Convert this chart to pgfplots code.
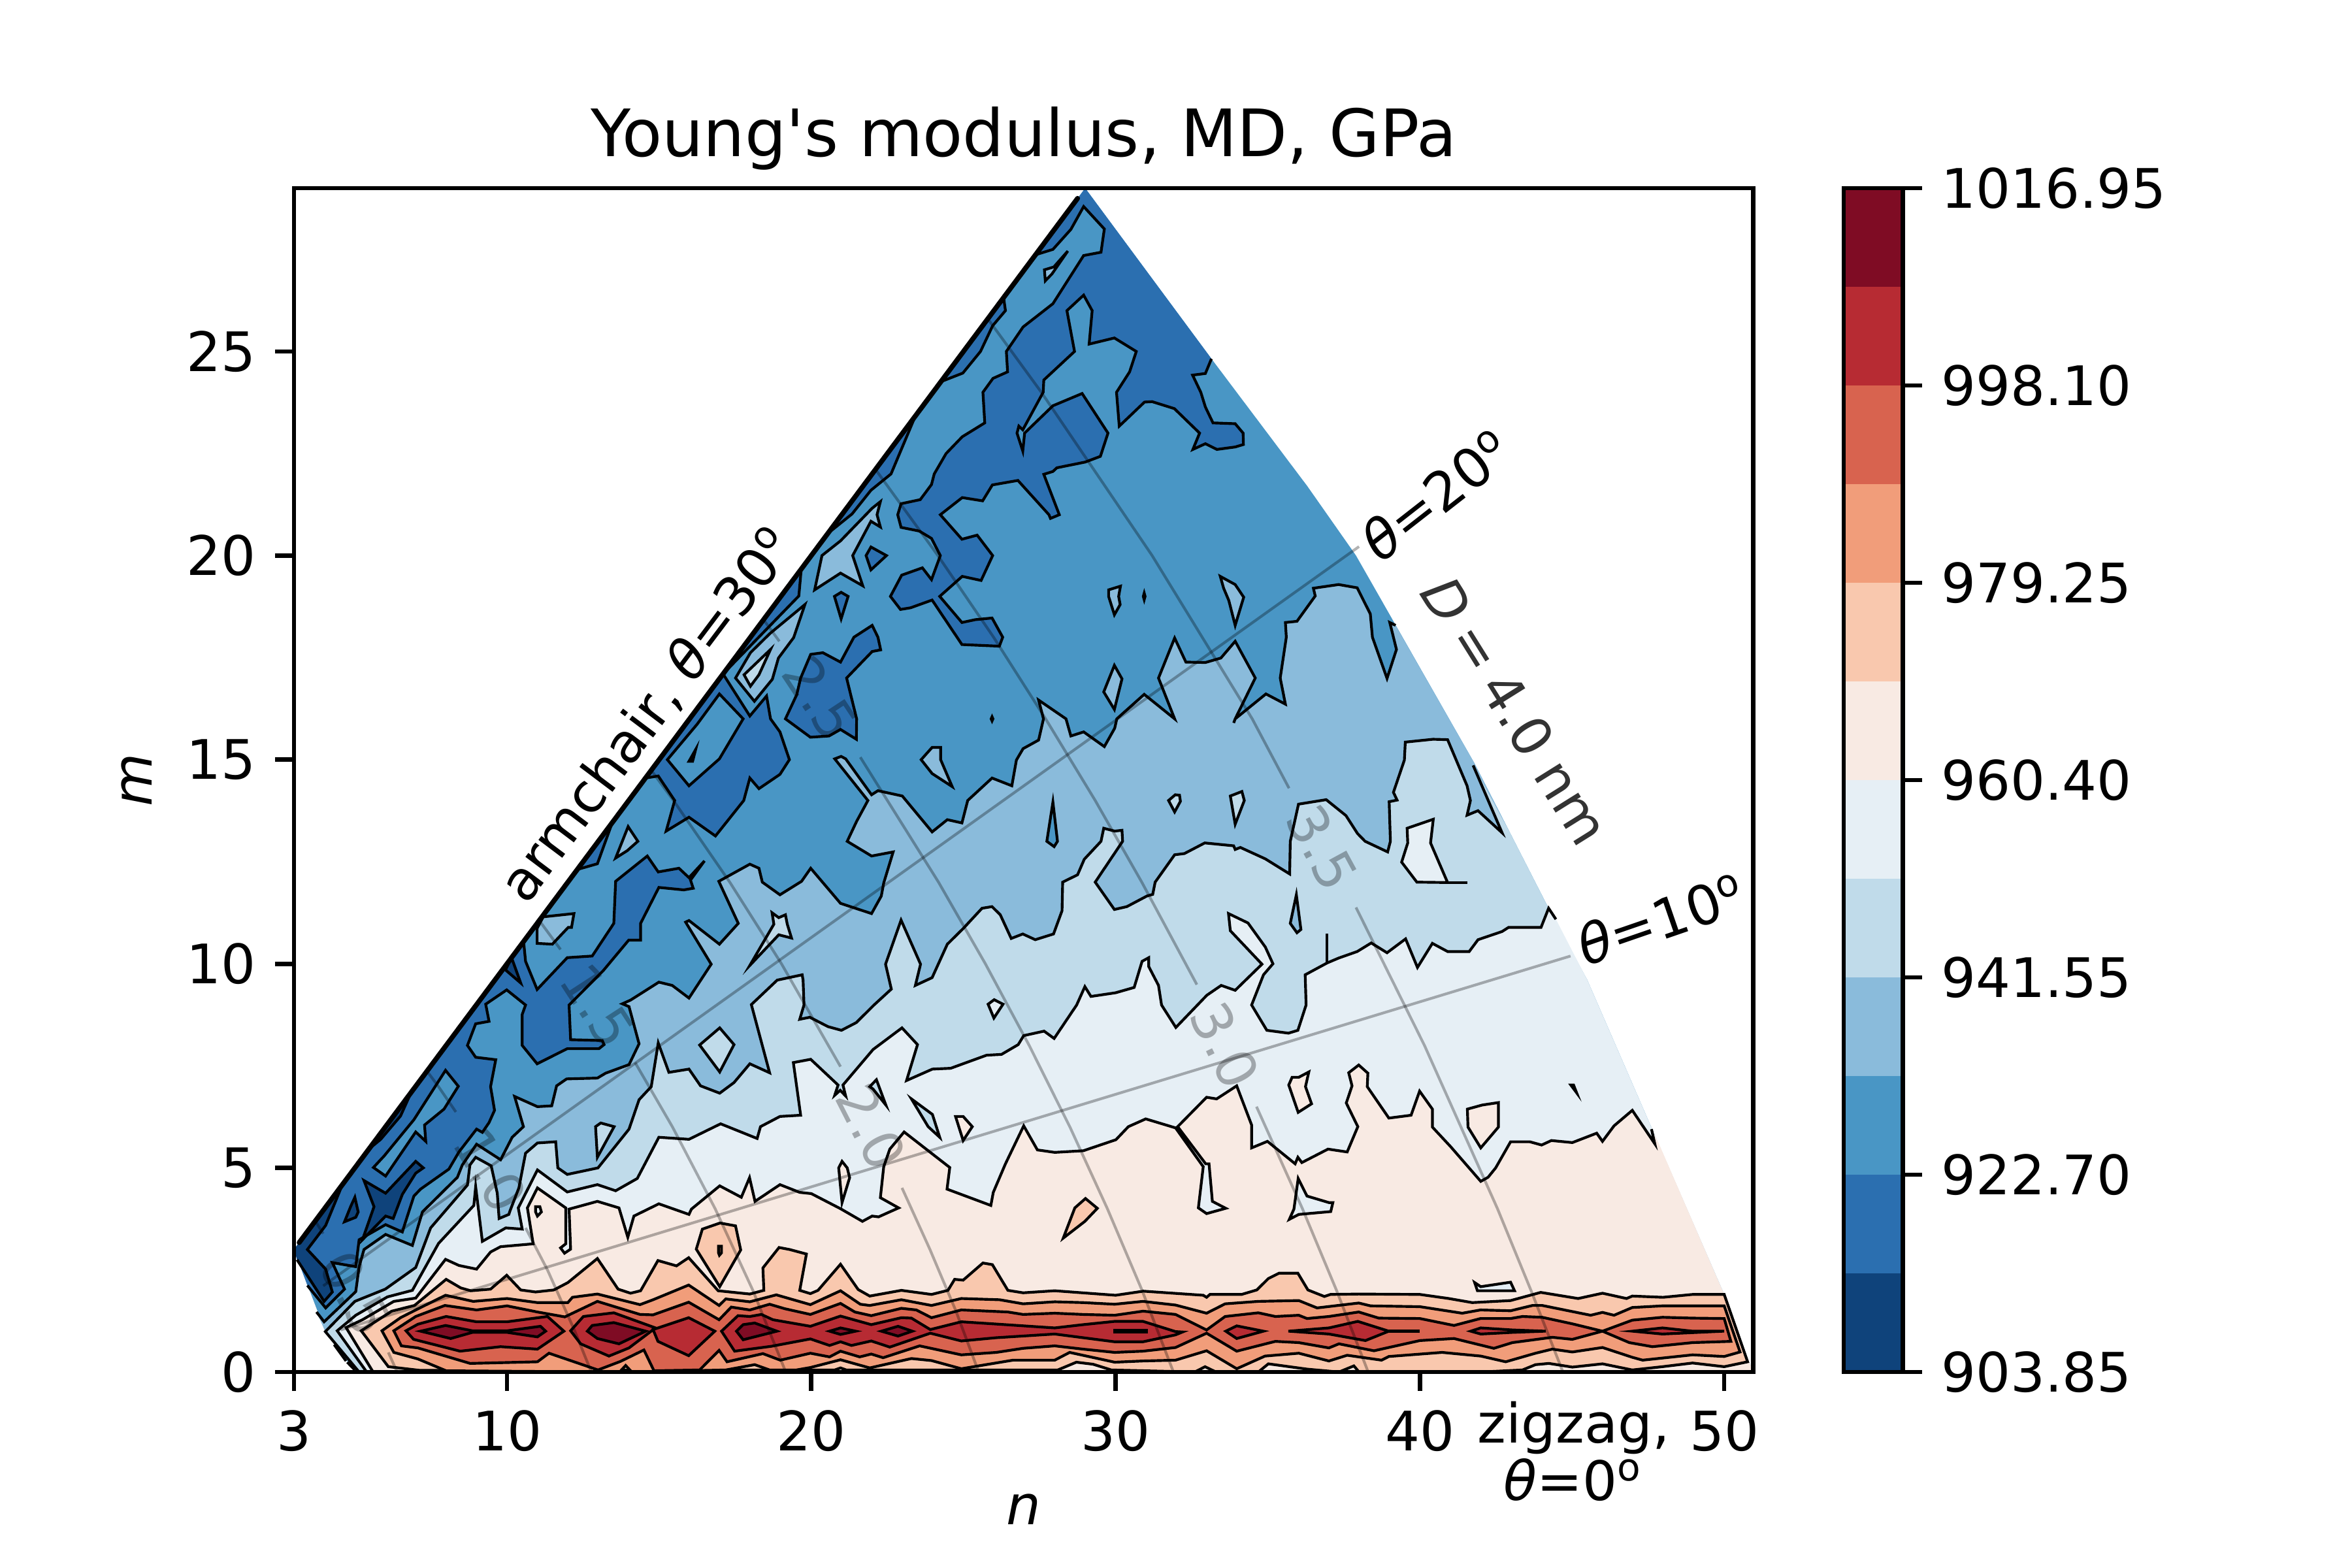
\documentclass[border=0pt]{standalone}
\usepackage{fontspec}
\setmainfont{DejaVu Sans}[Ligatures=TeXOff]
\usepackage{pgfplots}
\pgfplotsset{compat=1.18}

\definecolor{b1}{HTML}{0F437B}
\definecolor{b2}{HTML}{2B6FB0}
\definecolor{b3}{HTML}{4996C5}
\definecolor{b4}{HTML}{8ABBDB}
\definecolor{b5}{HTML}{C0DBEA}
\definecolor{b6}{HTML}{E6EFF5}
\definecolor{b7}{HTML}{F8EAE3}
\definecolor{b8}{HTML}{F9C8AE}
\definecolor{b9}{HTML}{F19D7A}
\definecolor{b10}{HTML}{D8634F}
\definecolor{b11}{HTML}{B72B33}
\definecolor{b12}{HTML}{7F0C24}

\newcommand{\tenbp}{\fontsize{10.04}{12}\selectfont}
\tikzset{cline/.style={draw=black,line width=0.5bp}}
\pgfplotsset{
  ticks common/.style={
    scale only axis, axis on top, clip mode=individual,
    tick align=outside,
    major tick length=3.5bp,
    every tick/.style={black,line width=0.8bp},
    axis line style={line width=0.8bp},
    tick label style={font=\tenbp},
    label style={font=\tenbp},
    /pgf/number format/assume math mode=true,
  },
}
% region bounded by a contour that ends on the edge of the chart:
% #2 is the contour, #3 only closes the fill
\newcommand{\band}[3]{%
  \addplot[fill=#1,draw=none,forget plot] coordinates {#2 #3};
  \addplot[cline,forget plot] coordinates {#2};}
% closed contour
\newcommand{\isl}[2]{\addplot[fill=#1,cline,forget plot] coordinates {#2} --cycle;}
% contour piece
\newcommand{\cl}[1]{\addplot[cline,forget plot] coordinates {#1};}
\newcommand{\iso}[1]{\addplot[black,opacity=0.3,line width=0.5bp,forget plot] coordinates {#1};}
\newcommand{\isolab}[4]{\node[rotate=#3,font=\tenbp,text=black,opacity=0.3] at (axis cs:#1,#2) {#4};}

\begin{document}
\begin{tikzpicture}
\useasboundingbox (0,0) rectangle (432bp,288bp);
\begin{axis}[
  ticks common,
  at={(54bp,36bp)}, anchor=south west,
  width=268bp, height=217.44bp,
  xmin=3, xmax=50.95, ymin=0, ymax=29,
  xtick={3,10,20,30,40,50}, ytick={0,5,10,15,20,25},
  tick pos=left,
  xlabel={\textit{n}}, ylabel={\textit{m}},
  xlabel shift=1bp, ylabel shift=-0.5bp,
  title={Young's modulus, MD, GPa},
  title style={font=\fontsize{12.05}{14}\selectfont,yshift=-6.2bp},
]
% whole map
\addplot[fill=b3,draw=none,forget plot] coordinates {(3,3)(29,29)(33.15,24.82)(36.3,21.7)(37.9,20)(41.8,14.9)(44.2,11.4)(45.5,9.6)(47.6,6)(50,1.9)(50.8,0.25)(51,0)(5,0)(4.03,0.99)} --cycle;

% band 2, upper part
\band{b2}{(33.15,24.82)(32.95,24.46)(32.53,24.42)(32.8,24)(32.95,23.64)(33.2,23.25)(33.93,23.23)(34.19,23)(34.2,22.72)(33.93,22.66)(33.33,22.6)(32.95,22.74)(32.54,22.6)(32.76,23)(31.93,23.6)(31.2,23.77)(30.95,23.76)(30.12,23.17)(30.03,24)(30.46,24.5)(30.68,25)(29.96,25.33)(29.13,25.18)(29.23,26)(28.95,26.38)(28.4,26)(28.65,25)(27.64,24.3)(27.62,24)(26.95,23.08)(26.82,23.17)(26.76,23)(26.95,22.56)(27.01,23)(27.94,23.67)(28.9,23.97)(29.75,23)(29.5,22.43)(29,22.29)(28.07,22.15)(27.94,22.06)(27.64,21.99)(28.15,21)(27.86,20.91)(27.81,21)(26.79,21.84)(25.95,21.73)(25.63,21.34)(24.96,21.42)(24.24,21)(24.95,20.4)(25.45,20.5)(25.96,20)(25.58,19.39)(24.96,19.49)(24.22,19)(24.95,18.36)(25.39,18.43)(25.94,18.47)(26.29,18)(26.18,17.78)(24.95,17.82)(23.97,18.91)(23.26,18.72)(22.93,18.68)(22.6,19)(22.97,19.52)(23.65,19.7)(23.95,19.41)(24.24,20)(23.95,20.42)(23.55,20.6)(22.95,20.69)(22.84,21)(22.95,21.27)(23.58,21.37)(23.95,21.74)(24.04,22)(24.43,22.5)(24.96,22.91)(25.7,23.25)(25.64,24)(25.97,24.34)(26.45,24.5)(26.41,25)(26.96,25.6)(27.94,26.17)(28.95,27.35)(29.52,27.43)(29.63,28)(28.95,28.55)(28.53,27.99)(27.94,27.5)(27.42,27.38)}{(29,29)}
\isl{b2}{(26.32,26.32)(26.38,26)(25.96,25.63)(25.56,25)(24.98,24.47)(24.26,24.26)}
\isl{b2}{(23.42,23.42)(22.62,22)(21.96,21.6)(21.34,21.02)(20.54,20.54)}
\isl{b2}{(19.67,19.67)(19.59,19.01)(17.1,17.1)}
\isl{b2}{(17.1,17.1)(17.98,16.07)(18.53,16.56)(18.66,16)(18.97,15.68)(19.28,15)(18.97,14.64)(18.28,14.29)(17.98,14.55)(17.78,14)(16.85,13.13)(15.98,13.59)(15.23,13.25)(15.51,14)(14.97,14.6)(14.55,14.55)}
\isl{b3}{(16.98,16.61)(17.76,16)(16.98,15.02)(15.98,14.36)(15.27,15)(16.25,15.87)}
\isl{b2}{(15.98,14.96)(16.2,15.25)(16.1,14.96)}
\isl{b2}{(22,18.29)(22.19,18)(22.28,17.69)(22,17.65)(21.16,17)(21.49,16)(21.48,15.5)(20.96,15.74)(20.58,15.58)(19.97,15.55)(19.15,16)(19.52,16.59)(19.65,17)(19.98,17.58)(20.38,17.62)(20.96,17.39)(21.4,18)}
\isl{b2}{(12.31,12.31)(12.97,12.45)(13.46,13.46)}
\isl{b2}{(21.96,20.21)(22.47,20)(21.96,19.65)(21.8,20)}
\isl{b2}{(20.98,19.1)(21.21,19)(20.98,18.45)(20.76,19)}

% band 2, lower part
\band{b2}{(10.55,10.51)(10.61,10.06)(10.99,9.37)(11.98,10.15)(12.8,10.19)(13.51,10.99)(13.57,12.02)(14.61,12.64)(14.97,12.25)(15.65,12.34)(15.98,12.11)(16.49,12.52)(16.03,12.05)(16.12,11.85)(15.81,11.81)(14.99,11.87)(14.39,10.99)(14.39,10.58)(14,10.58)(13.16,9.83)(12.04,8.99)(12.09,8.14)(13.13,8.12)(13.19,8.02)(13.02,7.92)(11.98,7.92)(10.99,7.55)(10.5,8)(10.5,8.76)(10.61,8.99)(9.99,9.36)(9.3,9.01)(9.41,8.59)(8.97,8.53)(8.7,8)(8.97,7.71)(9.63,7.65)(9.46,6.99)(9.59,6.41)(9.41,6.11)(9.19,5.87)(9,5.95)(8.42,5.39)(8.09,4.97)(7.16,4.48)(6.94,4.31)(6.67,3.69)(6.56,3.43)(6.01,3.61)(5.14,3.24)(5.03,2.58)(4.26,2.68)(4.66,2.03)(4.04,1.57)(3.44,2.12)}{(3,3)}
\isl{b3}{(7.98,7.39)(8.4,7)(7.93,6.44)(7.29,6.05)(7.33,5.65)(7,5.88)(6.01,4.8)(5.61,5.01)(5.96,5.29)(6.4,5.69)(6.94,6.18)}
% band 1
\isl{b1}{(6.85,6.85)(6.5,6.27)(5.85,5.7)(5.46,5.46)}
\isl{b1}{(10.15,10.15)(10.45,9.53)(9.95,9.85)}
\isl{b1}{(5.3,4.69)(6.01,4.38)(7,5.16)(7.25,5)(7,4.87)(6.56,4.35)(6.26,3.76)(6.01,3.82)(5.25,3.24)(5.63,4.05)}
\isl{b1}{(5,4.28)(5.11,3.92)(5.03,3.79)(4.66,3.68)(4.86,4.05)}
\band{b1}{(4.59,4.59)(4.04,3.59)(3.44,3)(4.04,2.52)(4.26,1.96)(3.99,1.73)(3.1,2.75)}{(3,3)}

% islands of band 4 and 5 in band 3
\isl{b4}{(20.11,19.16)(20.35,20)(20.96,20.36)(22,21.16)(22.27,21.32)(22.16,21)(22.27,20.7)(21.96,20.84)(21.36,20)(21.69,19.26)(20.96,19.57)}
\isl{b4}{(19.79,18.8)(19.42,17.99)(18.92,17.49)(18.72,16.97)(18.13,16.43)(17.51,17)(18,17.62)(18.64,18.09)}
\isl{b5}{(18.66,17.7)(18.28,17.08)(18.0,16.8)(17.79,17.08)}
\isl{b4}{(27.66,27)(27.97,27.07)(28.43,27.46)(27.91,26.9)(27.69,26.73)}
\isl{b4}{(13.98,13.36)(14.3,13)(13.95,12.77)(13.57,12.59)}
\isl{b4}{(23.61,15)(23.97,15.3)(24.25,15.3)(24.25,15)(24.63,14.34)(23.97,14.66)}
\isl{b4}{(10.99,10.87)(11.19,11.15)(12.2,11.23)(12.12,10.89)(12.01,10.89)(11.49,10.48)(10.99,10.5)}
\isl{b4}{(33.44,19.49)(33.55,19.2)(33.72,18.9)(33.93,18.29)(34.21,18.98)(33.93,19.29)}
\isl{b4}{(29.77,19.16)(30.16,19.25)(30.1,19)(30.15,18.8)(29.96,18.55)(29.77,19)}
\isl{b4}{(29.96,17.31)(30.21,16.98)(29.96,16.23)(29.61,16.66)}
\isl{b4}{(30.94,19.08)(30.97,19)(30.94,18.92)(30.91,19)}
\isl{b4}{(25.94,16.05)(25.97,16)(25.94,15.95)(25.91,16)}

% band 4, main region
\band{b4}{(39.2,18.29)(39.01,18.36)(39.23,17.7)(38.92,16.99)(38.44,18)(38.37,18.57)(37.94,19.21)(37.33,19.29)(36.5,19.2)(36.56,19.01)(35.96,18.39)(35.58,18.36)(35.61,18)(35.41,17)(35.58,16.36)(34.94,16.61)(33.93,16)(33.88,15.9)(33.93,16)(34.59,17)(33.93,17.9)(33.46,17.49)(32.95,17.38)(32.31,17.39)(31.94,17.98)(31.41,17)(31.94,16)(30.94,16.6)(30.04,16)(29.97,15.77)(29.63,15.32)(28.95,15.68)(28.53,15.58)(28.37,16)(27.47,16.46)(27.63,16)(27.47,15.48)(26.96,15.27)(26.74,14.99)(26.59,14.36)(25.94,14.55)(25.14,14)(24.95,13.45)(24.47,13.53)(23.97,13.23)(22.99,14.11)(22.19,14.24)(21.98,14.14)(21.13,15.02)(20.98,15.08)(20.77,15.02)(21.86,14)(21.49,13.49)(21.18,13)(21.98,12.64)(22.69,12.74)(22.38,11.98)(22.3,11.66)(21.98,11.23)(20.96,11.48)(19.98,12.34)(19.68,12.02)(18.97,11.69)(18.39,12)(18.28,12.34)(17.98,12.44)(16.96,12.02)(17.6,10.99)(16.98,10.48)(15.98,11.06)(15.87,11.02)(16.71,9.99)(15.98,9.16)(15.43,9.47)(14.99,9.55)(14.06,9.11)(13.79,9.02)(14.01,8.95)(14.34,8.04)(14.01,7.53)(13.24,7.32)(12.97,7.2)(11.96,7.18)(11.63,7.01)(11.47,6.52)(11,6.5)(10.25,6.75)(10.54,6.01)(10.17,5.75)(9.79,5.2)(9,5.58)(8.53,5.07)(8.37,4.77)(7.22,3.92)(6.89,3.1)(6.01,3.37)(5.3,3)(5.14,2.58)(5.03,1.97)(3.99,1.23)(3.74,1.47)}{(4.03,0.99)(5,0)(51,0)(50.8,0.25)(50,1.9)(47.6,6)(45.5,9.6)(44.2,11.4)(41.8,14.9)}
\cl{(4.32,0.67)(4.71,0.27)}
\cl{(4.75,0.24)(5,0.05)}
\isl{b3}{(27.94,13.96)(28.09,13)(27.98,12.87)(27.74,13)}
\isl{b5}{(12.91,6.01)(13.08,6.1)(13.52,6.01)(12.97,5.26)}
\isl{b5}{(16.33,8.01)(16.99,8.43)(17.46,8.02)(16.99,7.35)}
\isl{b5}{(18.71,11.25)(18.93,11.13)(19.15,11.2)(19.21,10.97)(19.35,10.63)(18.93,10.71)(17.98,9.96)(18.77,10.97)}
\isl{b5}{(31.74,14)(31.96,14.14)(32.1,14.13)(32.13,13.98)(31.94,13.72)}
\isl{b5}{(33.77,14.11)(34.15,14.22)(34.23,14)(33.93,13.42)}

% band 5, main region
\band{b5}{(5.14,0)(4.03,0.99)(5,1.73)(6,2.03)(7,2.56)(7.49,3.53)(8.7,4.58)(8.78,5.07)(8.97,5.26)(9.48,5.05)(9.68,4.38)(9.74,3.76)(10.06,3.86)(10.1,3.95)(10.39,4.51)(10.61,5.36)(11,5.61)(11.6,5.64)(11.67,5)(11.98,4.84)(12.99,5)(14.01,5.95)(14.34,6.67)(14.74,6.99)(14.97,8.06)(15.32,7.34)(15.98,7.42)(16.36,7.01)(16.99,6.83)(17.46,7.09)(17.98,7.55)(18.63,7.33)(18.03,9)(18.88,9.6)(19.7,9.73)(19.73,9.6)(19.76,8.99)(19.62,8.64)(19.95,8.69)(20.55,8.46)(20.99,8.37)(21.48,8.56)(22.06,8.99)(22.63,9.38)(22.44,9.99)(22.95,11.07)(23.59,9.99)(23.42,9.47)(23.97,9.66)(24.47,10.48)(25,10.87)(25.61,11.36)(25.94,11.4)(26.21,11.2)(26.57,10.62)(26.95,10.73)(27.36,10.59)(27.96,10.73)(28.24,11.3)(28.26,12)(28.75,12.18)(28.97,12.56)(29.52,13)(29.61,13.32)(29.97,13.25)(30.21,13.27)(30.23,13)(29.33,12)(29.96,11.33)(30.37,11.4)(31.03,11.66)(31.22,11.7)(31.3,12)(31.94,12.67)(32.26,12.7)(32.93,12.96)(33.88,12.89)(33.93,12.8)(34.1,12.85)(34.92,12.57)(35.72,12.2)(35.74,13)(36.01,13.91)(36.92,14.02)(37.57,13.63)(37.95,13.19)(38.2,13)(38.94,12.74)(39.03,13)(38.99,13.97)(39.25,14.01)(39.13,14.2)(39.49,14.99)(39.52,15.43)(40.43,15.5)(40.91,15.49)(41.55,14.36)(41.66,14)(41.55,13.64)(41.91,13.75)(42.7,13.21)(41.75,14.86)}{(42.96,13.21)(44.2,11.4)(45.5,9.6)(47.6,6)(50,1.9)(50.8,0.25)(51,0)}
\isl{b4}{(35.94,11.69)(36.09,10.84)(35.96,10.76)(35.74,10.99)}
\isl{b6}{(25.81,9.01)(26.01,9.12)(26.3,9.01)(26,8.67)}
\isl{b6}{(39.58,13.32)(40.44,13.54)(40.35,12.96)(40.91,11.99)(39.9,12)(39.4,12.49)(39.6,12.96)}
\cl{(40.91,11.99)(41.55,11.99)}

% band 6, main region
\band{b6}{(5.39,0)(4.42,1.01)(5.03,1.39)(6.07,1.84)(6.89,2)(7.75,3.15)(8.91,4.08)(8.97,4.54)(9.19,3.2)(9.96,3.53)(10.5,3.5)(10.37,4.02)(11,4.95)(11.98,4.41)(12.97,4.59)(13.57,4.44)(14.28,4.74)(14.99,5.75)(15.98,5.7)(17.02,6.08)(18.22,5.72)(18.33,6.01)(18.97,6.26)(19.65,6.29)(19.41,7.58)(19.98,7.66)(20.88,7.03)(20.77,6.78)(20.95,6.9)(21.13,6.76)(21.04,7.03)(22.03,7.9)(22.98,8.43)(23.49,8.02)(23.13,7.14)(23.98,7.42)(24.58,7.44)(25.76,7.76)(26.25,7.78)(26.8,8.02)(26.98,8.24)(27.65,8.35)(27.98,8.17)(28.72,8.99)(28.99,9.44)(29.19,9.2)(30,9.29)(30.61,9.42)(30.87,10.06)(31.09,10.15)(31.09,9.93)(31.41,9.47)(31.51,8.99)(31.98,8.44)(33,9.23)(33.47,9.47)(33.93,9.35)(34.81,9.99)(33.77,10.81)(33.71,11.23)(34.35,11)(34.92,10.41)(35.17,10)(34.86,9.73)(34.47,8.99)(34.97,8.37)(35.68,8.3)(35.99,8.37)(36.26,8.99)(36.23,9.73)(36.95,10.02)(37.33,10.14)(37.94,10.3)(38.4,10.51)(38.92,10.27)(39.53,10.61)(39.92,9.91)(40.41,10.5)(40.91,10.3)(41.62,10.3)(41.91,10.59)(42.7,10.79)(42.91,10.89)(43.98,10.89)(44.23,11.36)(44.47,11.09)}{(45.5,9.6)(47.6,6)(50,1.9)(50.8,0.25)(51,0)}
\cl{(36.95,10.74)(36.95,10.02)}
\isl{b5}{(23.29,6.69)(23.98,6.31)(24.22,5.75)(23.84,6.01)}
\isl{b5}{(21.92,6.99)(22.14,7.16)(22.45,6.54)(22.03,6.93)}
\isl{b7}{(24.74,6.26)(24.99,6.26)(25.29,6.01)(24.99,5.67)}
\isl{b7}{(21.01,5.16)(21.18,5)(21.26,4.76)(21.01,4.15)(20.9,5)}
\isl{b7}{(35.69,7.03)(35.8,7.22)(36.02,7.22)(36.35,7.35)(36.24,6.99)(36.44,6.57)(36,6.36)}
\isl{b7}{(41.56,6.44)(42.05,6.54)(42.58,6.6)(42.58,6)(42,5.49)(41.58,6)}
\isl{b7}{(44.96,7.03)(45.15,6.84)(45.05,7.03)}

% band 7, main region
\band{b7}{(5.6,0)(4.71,1.09)(5.25,1.28)(6.28,1.73)(7,1.81)(7.98,2.76)(8.42,2.61)(9,2.52)(9.46,2.94)(9.79,3.07)(10.86,3.14)(10.67,4.02)(11,4.51)(11.93,4.02)(11.93,3.14)(11.76,3.04)(11.89,2.91)(12.09,3.01)(12.04,3.99)(12.97,4.18)(13.68,4.02)(13.97,3.3)(14.17,3.82)(14.99,4.12)(15.98,3.86)(16.06,3.99)(16.99,4.56)(17.7,4.28)(17.97,4.76)(18.15,4.18)(18.97,4.59)(19.62,4.4)(20,4.37)(20.96,4)(21.68,3.69)(22,3.82)(22.21,3.8)(22.87,4.02)(22.27,4.27)(22.38,5.03)(22.58,5.46)(23.05,5.88)(24.55,5.01)(24.46,4.48)(25.9,4.08)(25.98,4.4)(26.38,5.1)(26.98,6.03)(27.43,5.44)(28,5.38)(28.94,5.42)(30.01,5.69)(30.42,6.01)(30.99,6.2)(31.97,5.98)(32.88,5.03)(32.72,4.02)(32.99,3.88)(33.62,4.01)(33.18,4.18)(33.07,5.1)(32.96,5.1)(32.04,6.01)(32.99,6.73)(33.32,6.69)(33.98,7.01)(34.47,6.05)(34.47,5.49)(34.99,5.65)(35.9,5.1)(35.99,5.26)(36.12,5.13)(36.98,5.46)(37.61,5.39)(37.96,6.01)(37.58,6.59)(37.77,7.01)(37.66,7.33)(37.99,7.52)(38.29,7.32)(38.27,6.99)(38.98,6.22)(39.71,6.29)(39.99,6.88)(40.41,6.44)(40.41,6)(41.01,5.52)(42,4.67)(42.24,4.77)(42.49,5)(42.98,5.64)(43.61,5.64)(44,5.56)(44.32,5.67)(45.01,5.62)(45.81,5.85)(46,5.65)(46.38,6.03)(46.98,6.41)(47.72,5.59)(47.61,5.95)}{(47.85,5.6)(50,1.9)(50.8,0.25)(51,0)}
\isl{b6}{(10.94,4.05)(11.08,4.05)(11.13,3.92)(11,3.82)(10.94,3.92)}
\isl{b6}{(36,4.74)(36.29,4.31)(37.01,4.15)(37.14,4.15)(37.07,3.93)(36.02,3.86)(35.71,3.74)(35.86,3.99)}
\isl{b6}{(41.8,2.19)(42,2.09)(42.98,2.2)(43.11,1.99)(41.89,1.99)}
\isl{b8}{(16.42,3.5)(17,3.65)(17.51,3.58)(17.68,2.99)(16.99,2.09)(16.22,3.01)}
\isl{b9}{(16.95,3.08)(17.05,3.08)(17.05,2.92)(16.98,2.86)(16.95,2.92)}
\isl{b8}{(28.66,4.02)(29.01,4.25)(29.4,4.01)(28.99,3.69)(28.28,3.28)}

% band 8
\isl{b8}{(5.21,1.01)(6.21,1.49)(6.96,1.63)(8,2.27)(8.48,2.06)(8.81,1.99)(9.46,2.03)(9.99,2.37)(10.45,2.01)(10.94,1.96)(11.54,2.01)(12,2.19)(12.97,2.78)(13.65,2.03)(14.06,1.93)(14.39,1.99)(14.96,2.73)(15.57,2.6)(15.97,2.8)(16.94,1.99)(17.98,1.91)(18.44,2)(18.41,2.55)(18.94,3.05)(19.29,3)(19.84,2.89)(19.62,2)(19.97,1.92)(20.22,2)(20.96,2.64)(21.54,2.02)(21.92,1.86)(22.96,2)(23.95,1.9)(24.49,2)(24.71,2.27)(24.99,2.25)(25.64,2.67)(25.95,2.63)(26.46,2)(26.96,1.94)(28,1.99)(30,1.88)(30.91,1.98)(32.88,1.88)(32.99,1.83)(33.1,1.9)(34.14,1.9)(34.64,2.01)(35.02,2.29)(35.37,2.42)(35.99,2.42)(36.32,2.01)(36.86,1.85)(37.06,1.9)(37.99,1.91)(40,1.9)(40.95,1.8)(41.72,1.7)(42.98,1.75)(43.97,1.95)(45.2,1.8)(46,1.93)(46.79,1.8)(46.98,1.86)(47.99,1.83)(48.96,1.9)(50,1.9)(50.77,0.25)(50,0.13)(48.96,0.22)(47.97,0.13)(46.98,0.05)(46,0.2)(45.01,0.12)(44.24,0.21)(43.8,0.18)(43.37,0.05)(42,0)(38,0)(37.83,0.15)(37.34,0)(36.3,0.07)(35.02,0.2)(34.69,0)(33.3,0)(32.94,0.13)(32.6,0)(29.86,0.05)(29.26,0.19)(28.71,0.24)(28.1,0.05)(21.15,0.05)(20.96,0.1)(20.77,0.05)(7.14,0.04)(6.1,0.13)}

% band 9
\isl{b9}{(5.89,1.01)(6.5,1.33)(7,1.52)(7.98,1.88)(8.89,1.73)(10,1.8)(11,1.7)(12,1.7)(12.15,1.83)(12.97,1.91)(14.37,1.65)(14.8,1.77)(15.97,2.13)(16.97,1.63)(17.19,1.79)(17.98,1.72)(18.85,1.89)(19.97,1.65)(20.96,1.99)(21.61,1.66)(21.92,1.63)(22.96,1.77)(23.95,1.63)(24.93,1.8)(26.19,1.77)(26.96,1.67)(28,1.72)(28.93,1.7)(29.97,1.66)(30.9,1.73)(31.97,1.64)(32.99,1.44)(33.6,1.67)(34.69,1.73)(36.02,1.75)(36.62,1.57)(37.99,1.69)(38.38,1.62)(40,1.6)(41.39,1.44)(41.99,1.52)(42.98,1.5)(43.7,1.63)(44.02,1.63)(45.61,1.39)(46,1.46)(46.38,1.39)(46.98,1.58)(47.97,1.62)(48.96,1.62)(50,1.62)(50.52,0.49)(50,0.38)(48.96,0.42)(47.32,0.29)(46.98,0.36)(46,0.6)(45.01,0.49)(44.35,0.56)(43.8,0.46)(42.82,0.25)(42,0.39)(40.73,0.48)(38.98,0.38)(38.74,0.29)(37.61,0.41)(37.01,0.27)(36.02,0.46)(34.91,0.39)(33.98,0.08)(32.99,0.52)(31.97,0.29)(30.9,0.27)(29.97,0.24)(28.49,0.48)(28,0.29)(26.63,0.29)(24.93,0.08)(23.95,0.28)(23.29,0.33)(21.92,0.1)(20.96,0.3)(19.97,0.11)(19.51,0.05)(18.63,0.05)(18.14,0.18)(17.19,0.05)(14.1,0)(13.9,0.16)(13.7,0)(8,0.03)(7.07,0.32)(6.28,0.48)}

% band 10
\isl{b10}{(6.28,1.01)(7,1.36)(7.96,1.63)(9,1.52)(10,1.62)(11,1.47)(11.9,1.35)(12.97,1.73)(14.37,1.41)(14.8,1.4)(15.97,1.71)(16.97,1.28)(17.37,1.59)(17.98,1.52)(18.63,1.66)(19.13,1.55)(19.97,1.41)(20.96,1.68)(21.43,1.47)(21.97,1.38)(22.96,1.56)(23.45,1.52)(23.95,1.33)(24.93,1.52)(26.46,1.47)(26.96,1.41)(28,1.44)(28.93,1.41)(29.97,1.39)(30.9,1.49)(31.97,1.41)(32.99,1.03)(33.6,1.36)(34.69,1.45)(35.25,1.36)(36.02,1.39)(36.29,1.31)(37.01,1.36)(37.99,1.47)(38.65,1.32)(40,1.31)(41.12,1.14)(41.99,1.31)(42.98,1.31)(43.37,1.36)(44.02,1.34)(45.01,1.18)(46,1)(46.98,1.27)(47.97,1.34)(48.96,1.32)(50,1.31)(50.22,0.75)(48.96,0.72)(47.64,0.62)(46.88,0.72)(46,1)(45.01,0.8)(44.35,0.85)(43.04,0.72)(42.43,0.58)(41.12,0.82)(40,0.77)(38.49,0.52)(37.34,0.69)(37.01,0.59)(36.02,0.72)(35.25,0.75)(33.98,0.51)(32.99,0.95)(31.97,0.6)(30.9,0.51)(29.97,0.48)(28.93,0.56)(28,0.64)(26.96,0.58)(26.08,0.48)(24.93,0.42)(23.56,0.64)(22.36,0.35)(21.97,0.44)(21.59,0.37)(20.96,0.51)(20.6,0.37)(19.97,0.46)(18.98,0.29)(18.41,0.45)(17.23,0.25)(16.97,0.53)(16.33,0.05)(14.83,0.03)(14.5,0.54)(13.73,0.26)(12.99,0.05)(11.38,0.46)(11,0.25)(8.79,0.21)(7.07,0.59)(6.53,0.64)}

% band 11
\isl{b11}{(6.68,1.01)(7.07,1.17)(8,1.36)(9,1.23)(10,1.23)(11.33,1.36)(11.87,1)(11,0.56)(9.79,0.62)(8.46,0.51)(6.93,0.8)}
\isl{b11}{(12.09,1.01)(12.51,1.36)(13.51,1.45)(14.88,1.08)(14.01,0.59)(13.35,0.39)(12.42,0.69)}
\isl{b11}{(14.8,1.04)(15.97,1.33)(16.83,1)(15.97,0.4)(14.96,0.75)}
\isl{b11}{(17.05,1)(17.59,1.38)(17.98,1.36)(18.36,1.41)(18.74,1.28)(19.97,1.12)(20.96,1.37)(21.97,1.16)(22.96,1.33)(23.29,1.32)(23.91,1.04)(24.93,1.23)(25.97,1.18)(28,1.08)(28.93,1.16)(29.97,1.24)(30.9,1.24)(31.97,0.99)(32.2,0.98)(31.97,0.91)(30.9,0.74)(29.97,0.74)(28,0.93)(26.08,0.84)(24.93,0.76)(23.91,0.95)(22.58,0.61)(21.97,0.76)(21.32,0.65)(20.96,0.74)(20.6,0.65)(19.97,0.81)(18.69,0.63)(17.48,0.51)}
\isl{b11}{(33.62,1)(33.98,1.13)(34.86,1)(33.98,0.82)}
\isl{b11}{(35.68,1)(37.01,1.08)(37.96,1.24)(38.98,1)(38.21,0.77)(37.01,0.93)}
\cl{(38.98,1)(40,1)}
\isl{b11}{(41.67,1)(42,1.08)(43.04,1.03)(44.13,1)(43.04,0.97)(42,0.93)}
\isl{b11}{(46.98,1)(47.97,1.08)(48.96,1)(50,1)(47.97,0.93)}

% band 12
\isl{b12}{(7.16,1)(7.98,1.14)(8.86,1.01)(10.01,1.01)(11.1,1.12)(11.27,1)(11,0.86)(10.01,0.97)(8.86,0.97)(8.15,0.82)}
\isl{b12}{(12.64,1)(12.8,1.14)(13.51,1.21)(14.56,1)(13.68,0.69)(12.97,0.82)}
\isl{b12}{(17.54,1)(17.76,1.16)(18.14,1.2)(18.87,1)(17.76,0.79)}
\isl{b12}{(20.6,1)(20.96,1.08)(21.46,1)(20.96,0.92)}
\isl{b12}{(22.3,1)(22.85,1.12)(23.32,1)(22.85,0.88)}
\addplot[draw=black,line width=0.8bp,forget plot] coordinates {(29.92,1)(31.07,1)};

% edge lines and constant diameter / angle lines
\addplot[black,line width=0.9bp,line cap=round,forget plot] coordinates {(3.17,3.17)(28.75,28.75)};
\iso{(4.53,1.03)(44.95,10.19)}
\iso{(3.96,2.11)(38,20.22)}
\iso{(3.7,3.7)(3.96,3.39)}
\iso{(6.1,0.48)(6.39,0)}
\iso{(7.37,7.37)(7.74,7)(8.32,6.37)}
\iso{(10.61,3.53)(11.33,2.5)(12.23,1)(12.77,0)}
\iso{(11.06,11.06)(11.76,10.35)}
\iso{(14.21,7.58)(15.44,6)(16.84,4)(18.08,2)(19.16,0)}
\iso{(14.74,14.74)(15.47,14)(17.32,12)(19.02,10)(20.96,7.48)}
\iso{(22.98,4.51)(23.9,3)(24.75,1.5)(25.5,0)}
\iso{(18.43,18.43)(18.95,17.9)}
\iso{(21.61,15.06)(24.18,12)(25.72,10)(27.16,8)(28.5,6)(29.73,4)(30.87,2)(31.9,0)}
\iso{(22.11,22.11)(24.16,20)(25.99,18)(27.7,16)(29.33,14)(30.86,12)(32.67,9.49)}
\iso{(34.63,6.5)(36.14,4)(37.26,2)(38.3,0)}
\iso{(25.8,25.8)(27.56,24)(31.2,20)(34.49,16)(35.7,14.3)}
\iso{(37.9,11.38)(40.15,8)(42.55,4)(43.65,2)(44.7,0)}
\isolab{5.03}{1.93}{-61}{0.5}
\isolab{9.46}{4.95}{-59}{1.0}
\isolab{12.97}{8.97}{-57}{1.5}
\isolab{21.97}{6}{-63}{2.0}
\isolab{20.3}{16.5}{-56.5}{2.5}
\isolab{33.6}{8}{-64}{3.0}
\isolab{36.8}{12.85}{-61.5}{3.5}

\node[rotate=53,font=\tenbp] at (axis cs:14.65,16.1) {armchair, \textit{θ}=30\textsuperscript{o}};
\node[rotate=38,font=\tenbp] at (axis cs:40.55,21.5) {\textit{θ}=20\textsuperscript{o}};
\node[rotate=19,font=\tenbp] at (axis cs:47.95,11.1) {\textit{θ}=10\textsuperscript{o}};
\node[rotate=-58,font=\tenbp,text=black,opacity=0.8] at (axis cs:43.15,16.2) {\textit{D}\hspace{0.22em}=\hspace{0.22em}4.0\hspace{0.3em}nm};
\node[align=center,font=\fontsize{10.04}{10.6}\selectfont] at (axis cs:45.05,-1.95) {zigzag,\\\textit{θ}=0\textsuperscript{o}};
\end{axis}

% colour bar
\begin{axis}[
  ticks common,
  at={(338.64bp,36bp)}, anchor=south west,
  width=10.86bp, height=217.44bp,
  xmin=0, xmax=1, ymin=903.85, ymax=1016.95,
  xtick=\empty,
  ytick={903.85,922.7,941.55,960.4,979.25,998.1,1016.95},
  yticklabels={903.85,922.70,941.55,960.40,979.25,998.10,1016.95},
  ytick pos=right, yticklabel pos=right,
]
\addplot[fill=b1,draw=none] coordinates {(0,903.85)(1,903.85)(1,913.275)(0,913.275)};
\addplot[fill=b2,draw=none] coordinates {(0,913.275)(1,913.275)(1,922.7)(0,922.7)};
\addplot[fill=b3,draw=none] coordinates {(0,922.7)(1,922.7)(1,932.125)(0,932.125)};
\addplot[fill=b4,draw=none] coordinates {(0,932.125)(1,932.125)(1,941.55)(0,941.55)};
\addplot[fill=b5,draw=none] coordinates {(0,941.55)(1,941.55)(1,950.975)(0,950.975)};
\addplot[fill=b6,draw=none] coordinates {(0,950.975)(1,950.975)(1,960.4)(0,960.4)};
\addplot[fill=b7,draw=none] coordinates {(0,960.4)(1,960.4)(1,969.825)(0,969.825)};
\addplot[fill=b8,draw=none] coordinates {(0,969.825)(1,969.825)(1,979.25)(0,979.25)};
\addplot[fill=b9,draw=none] coordinates {(0,979.25)(1,979.25)(1,988.675)(0,988.675)};
\addplot[fill=b10,draw=none] coordinates {(0,988.675)(1,988.675)(1,998.1)(0,998.1)};
\addplot[fill=b11,draw=none] coordinates {(0,998.1)(1,998.1)(1,1007.525)(0,1007.525)};
\addplot[fill=b12,draw=none] coordinates {(0,1007.525)(1,1007.525)(1,1016.95)(0,1016.95)};
\end{axis}
\end{tikzpicture}
\end{document}
